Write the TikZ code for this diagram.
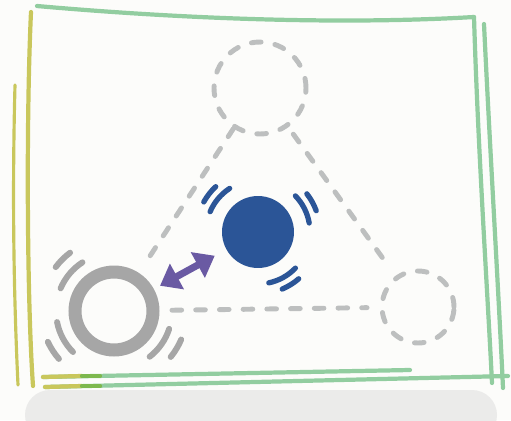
\documentclass[tikz,border=0pt]{standalone}
\usetikzlibrary{arrows.meta,calc}

\definecolor{paper}{HTML}{FCFCFA}
\definecolor{shadowgray}{HTML}{EBEBEA}
\definecolor{framegreen}{HTML}{92CDA0}
\definecolor{frameyellow}{HTML}{C9C75C}
\definecolor{midgreen}{HTML}{7DB84E}
\definecolor{ghost}{HTML}{BDBFBF}
\definecolor{ringgray}{HTML}{A6A6A6}
\definecolor{diskblue}{HTML}{2B5597}
\definecolor{pairpurple}{HTML}{6A5AA3}

\begin{document}
\begin{tikzpicture}[x=0.02cm,y=-0.02cm,
  ghostline/.style={ghost,line width=2.8pt,line cap=round,dash pattern=on 5.5pt off 8pt},
  ghostsite/.style={circle,inner sep=0pt,draw,ghostline},
  wig/.style={line width=3pt,line cap=round},
  edge/.style={line width=2.4pt,line cap=round}]

\useasboundingbox[fill=paper] (0,0) rectangle (511,420);
\clip (0,0) rectangle (511,420);
\fill[shadowgray,rounded corners=0.5cm] (25,390) rectangle (497,440);

% frame
\draw[edge,framegreen] (37,6) .. controls (150,16) and (320,26) .. (474,17);
\draw[edge,framegreen] (474,17) .. controls (478,150) and (488,300) .. (492,383);
\draw[edge,framegreen] (484,24) .. controls (490,150) and (499,300) .. (503,388);
\draw[edge,frameyellow] (31,12) .. controls (26,120) and (27,300) .. (33,386);
\draw[edge,frameyellow,line width=1.8pt] (15,85) .. controls (12,200) and (14,300) .. (18,385);
\draw[edge,framegreen] (43,377) -- (410,370);
\draw[edge,framegreen] (45,387) -- (508,376);
\draw[edge,frameyellow] (43,377) -- (82,376);
\draw[edge,frameyellow] (45,387) -- (82,386);
\draw[edge,midgreen] (82,376) -- (100,376);
\draw[edge,midgreen] (82,386) -- (100,386);

% sites
\node[ghostsite,minimum size=1.84cm] (top) at (260,88) {};
\node[ghostsite,minimum size=1.44cm] (right) at (418,307) {};
\node[circle,draw=ringgray,line width=7.4pt,minimum size=1.56cm,inner sep=0pt] (ring) at (114,311) {};
\node[circle,fill=diskblue,minimum size=1.44cm,inner sep=0pt] (disk) at (258,232) {};

\draw[ghostline,shorten >=0.19cm] (top) -- (ring);
\draw[ghostline,shorten <=0.17cm,shorten >=0.35cm] (top) -- (right);
\draw[ghostline,shorten <=0.25cm,shorten >=0.25cm] (ring) -- (right);

\draw[pairpurple,line width=4pt,{Triangle[length=11pt,width=16pt]}-{Triangle[length=11pt,width=16pt]},
  shorten <=0.14cm,shorten >=0.26cm] (ring) -- (disk);

% wiggles
\foreach \a/\b in {140/142,27/29,-61/-58}{
  \draw[wig,diskblue] (disk) ++(\a-17:1.04cm) arc[start angle=\a-17,end angle=\a+17,radius=1.04cm];
  \draw[wig,diskblue] (disk) ++(\b-9:1.24cm) arc[start angle=\b-9,end angle=\b+9,radius=1.24cm];
}
\foreach \a/\b in {140/135,208/213,-35/-31}{
  \draw[wig,ringgray,line width=3.4pt] (ring) ++(\a-17:1.16cm) arc[start angle=\a-17,end angle=\a+17,radius=1.16cm];
  \draw[wig,ringgray,line width=3.4pt] (ring) ++(\b-8:1.46cm) arc[start angle=\b-8,end angle=\b+8,radius=1.46cm];
}

\end{tikzpicture}
\end{document}
